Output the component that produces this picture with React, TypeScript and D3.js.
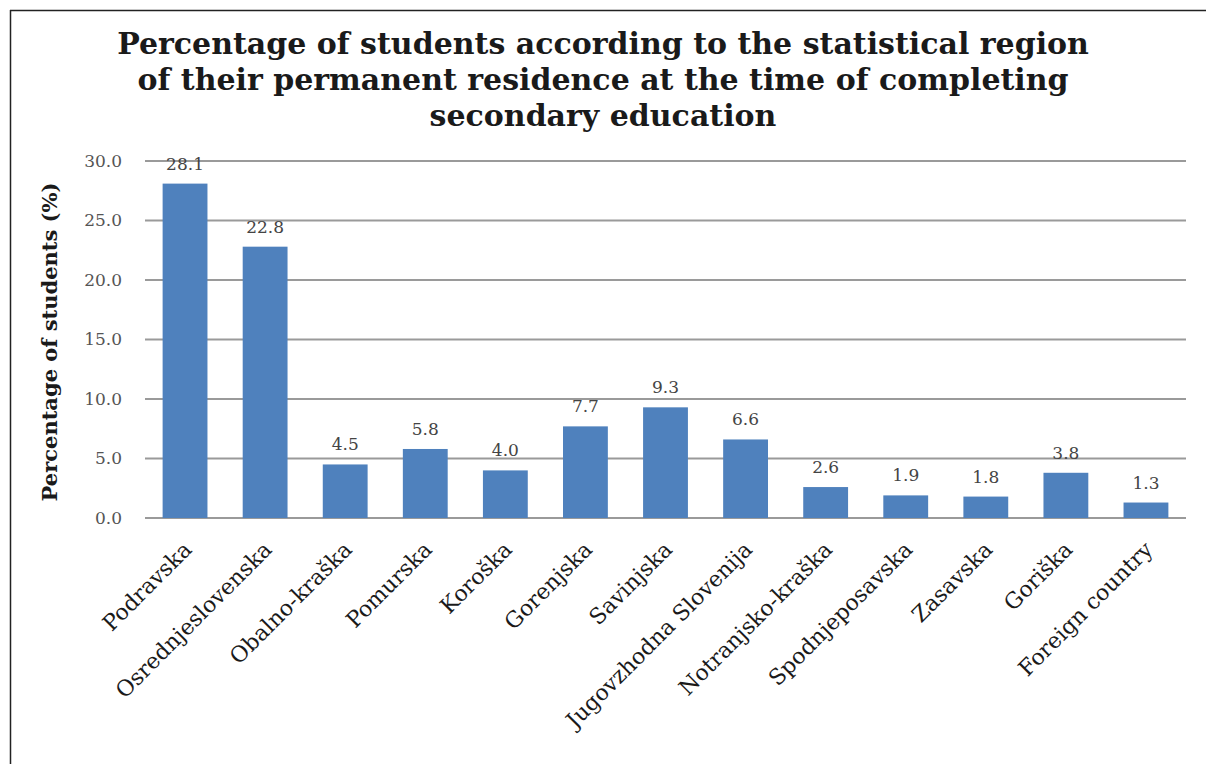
import React from "react";
import * as d3 from "d3";

const categories = [
  "Podravska",
  "Osrednjeslovenska",
  "Obalno-kraška",
  "Pomurska",
  "Koroška",
  "Gorenjska",
  "Savinjska",
  "Jugovzhodna Slovenija",
  "Notranjsko-kraška",
  "Spodnjeposavska",
  "Zasavska",
  "Goriška",
  "Foreign country",
];
const values = [28.1, 22.8, 4.5, 5.8, 4.0, 7.7, 9.3, 6.6, 2.6, 1.9, 1.8, 3.8, 1.3];
const yTicks = [0, 5, 10, 15, 20, 25, 30];
const titleLines = [
  "Percentage of students according to the statistical region",
  "of their permanent residence at the time of completing",
  "secondary education",
];
const yAxisTitle = "Percentage of students (%)";

const W = 1206;
const H = 764;
const plotLeft = 145;
const plotRight = 1186;
const plotTop = 161;
const plotBottom = 518;

export default function App() {
  const x = d3
    .scaleBand<string>()
    .domain(categories)
    .range([plotLeft, plotRight])
    .paddingInner(0.44)
    .paddingOuter(0.22);
  const y = d3.scaleLinear().domain([0, 30]).range([plotBottom, plotTop]);
  const serif = "'DejaVu Serif', serif";

  return (
    <svg
      width={W}
      height={H}
      style={{ position: "absolute", left: 0, top: 0, background: "#fff" }}
    >
      <rect x={0} y={0} width={W} height={H} fill="#fff" />
      {/* frame */}
      <line x1={10.5} y1={10} x2={10.5} y2={H} stroke="#222" strokeWidth={1.5} />
      <line x1={10} y1={10.5} x2={W} y2={10.5} stroke="#222" strokeWidth={1.5} />

      {/* title */}
      {titleLines.map((t, i) => (
        <text
          key={i}
          x={603}
          y={54 + i * 36}
          textAnchor="middle"
          fontFamily={serif}
          fontWeight="bold"
          fontSize={30}
          fill="#1a1a1a"
        >
          {t}
        </text>
      ))}

      {/* gridlines */}
      {yTicks.map((t) => (
        <g key={t}>
          <line
            x1={plotLeft}
            x2={plotRight}
            y1={y(t)}
            y2={y(t)}
            stroke="#9a9a9a"
            strokeWidth={2}
          />
          <text
            x={122}
            y={y(t)}
            dy="0.35em"
            textAnchor="end"
            fontFamily={serif}
            fontSize={17}
            fill="#555"
          >
            {t.toFixed(1)}
          </text>
        </g>
      ))}

      {/* y axis title */}
      <text
        transform={`translate(57, ${342}) rotate(-90)`}
        textAnchor="middle"
        fontFamily={serif}
        fontWeight="bold"
        fontSize={21}
        fill="#1a1a1a"
      >
        {yAxisTitle}
      </text>

      {/* bars */}
      {categories.map((c, i) => (
        <g key={c}>
          <rect
            x={x(c)}
            y={y(values[i])}
            width={x.bandwidth()}
            height={y(0) - y(values[i])}
            fill="#4f81bd"
          />
          <text
            x={(x(c) as number) + x.bandwidth() / 2}
            y={y(values[i]) - 14}
            textAnchor="middle"
            fontFamily={serif}
            fontSize={17}
            fill="#444"
          >
            {values[i].toFixed(1)}
          </text>
          <text
            transform={`translate(${(x(c) as number) + x.bandwidth() / 2 + 8}, ${plotBottom + 33}) rotate(-45)`}
            textAnchor="end"
            fontFamily={serif}
            fontSize={22}
            fill="#1a1a1a"
          >
            {c}
          </text>
        </g>
      ))}
    </svg>
  );
}
